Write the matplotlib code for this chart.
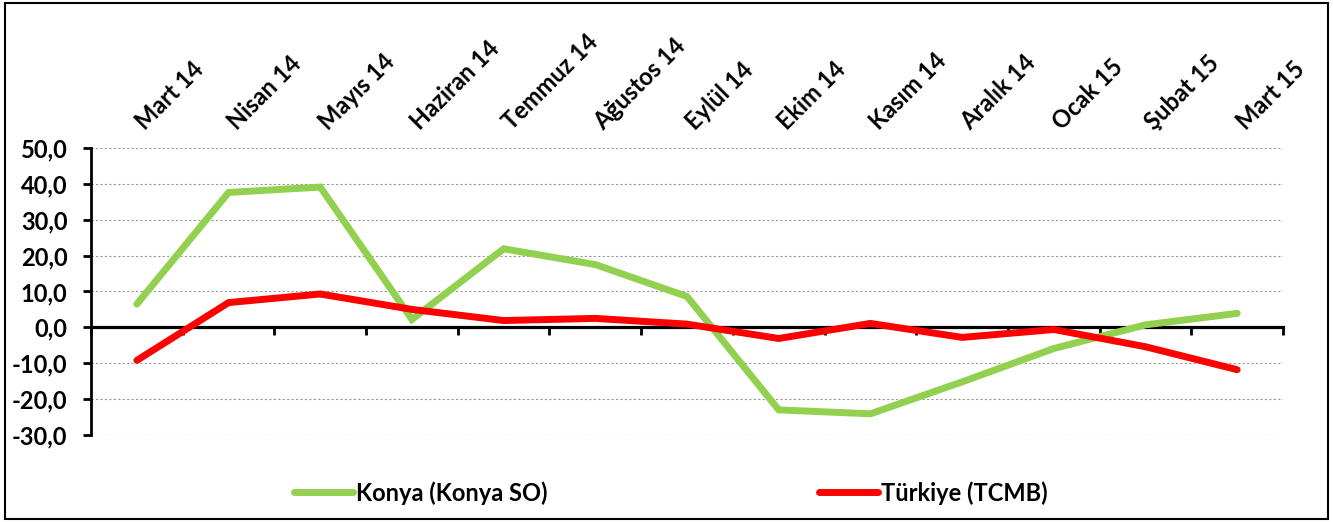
import matplotlib
matplotlib.use("Agg")
import matplotlib.pyplot as plt
import matplotlib.patches as patches
import numpy as np

plt.rcParams['font.family'] = ['Lato', 'DejaVu Sans']
plt.rcParams['font.weight'] = 'bold'

months = ["Mart 14", "Nisan 14", "Mayıs 14", "Haziran 14", "Temmuz 14", "Ağustos 14",
          "Eylül 14", "Ekim 14", "Kasım 14", "Aralık 14", "Ocak 15", "Şubat 15", "Mart 15"]
konya = [6.5, 37.6, 39.1, 2.2, 21.9, 17.5, 8.6, -23.0, -24.1, -15.2, -5.9, 0.7, 3.9]
turkiye = [-9.2, 6.9, 9.3, 5.0, 1.9, 2.5, 0.9, -3.1, 1.1, -2.8, -0.6, -5.4, -11.8]
yticks = [-30, -20, -10, 0, 10, 20, 30, 40, 50]

fig = plt.figure(figsize=(13.33, 5.22), dpi=100)
ax = fig.add_axes([0.0683, 0.1667, 0.8942, 0.5498])

x = np.arange(len(months))
l1, = ax.plot(x, konya, color="#92D050", lw=5, solid_capstyle="round", solid_joinstyle="miter", zorder=3)
l2, = ax.plot(x, turkiye, color="#FF0000", lw=5, solid_capstyle="round", solid_joinstyle="miter", zorder=4)

ax.set_xlim(-0.5, len(months) - 0.5)
ax.set_ylim(-30, 50)
ax.set_yticks(yticks)
ax.set_yticklabels([f"{v},0" for v in yticks], fontsize=17, fontweight="bold")
ax.grid(axis="y", color="#999999", linestyle=(0, (2, 2)), lw=0.8)
ax.set_axisbelow(True)

for s in ["top", "right"]:
    ax.spines[s].set_visible(False)
ax.spines["left"].set_linewidth(2)
ax.spines["bottom"].set_position(("data", 0))
ax.spines["bottom"].set_linewidth(2.3)
ax.spines["bottom"].set_zorder(2)

# category ticks sit between months on the zero line, names go above the plot
ax.set_xticks([])
ax.set_xticks(np.arange(-0.5, len(months)), minor=True)
ax.tick_params(axis="x", which="minor", bottom=True, direction="out", length=6, width=2, labelbottom=False)
ax.tick_params(axis="y", direction="out", length=6, width=2, pad=11)
for i, m in zip(x, months):
    ax.annotate(m, xy=(i, 1), xycoords=("data", "axes fraction"), xytext=(6, 12),
                textcoords="offset points", rotation=45, rotation_mode="anchor",
                ha="left", va="baseline", fontsize=17, fontweight="bold")

fig.legend([l1, l2], ["Konya (Konya SO)", "Türkiye (TCMB)"], loc="center",
           bbox_to_anchor=(0.503, 0.056), ncol=2, frameon=False,
           prop={"size": 17, "weight": "bold"}, handlelength=2.5, handletextpad=0.12,
           columnspacing=11.5)

fig.patches.append(patches.Rectangle((0.004, 0.005), 0.992, 0.99, transform=fig.transFigure,
                                     fill=False, edgecolor="black", lw=1.5))

fig.savefig("out.png", dpi=100)
